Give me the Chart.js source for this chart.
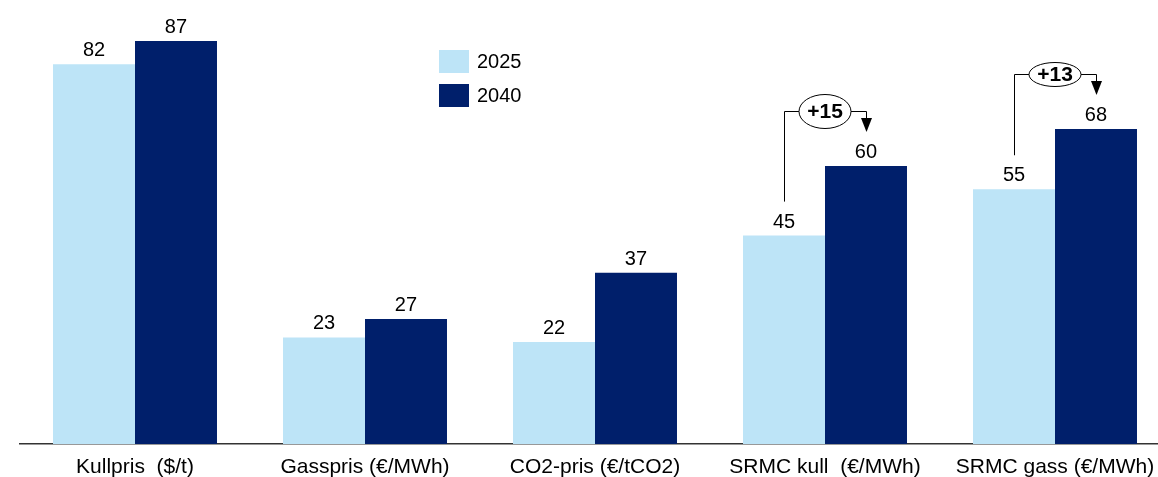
<!DOCTYPE html>
<html>
<head>
<meta charset="utf-8">
<script src="https://cdn.jsdelivr.net/npm/chart.js@4.4.1/dist/chart.umd.min.js"></script>
<style>
  html, body { margin: 0; padding: 0; background: #fff; overflow: hidden; }
  #wrap { width: 1175px; height: 477px; position: relative; }
</style>
</head>
<body>
<div id="wrap"><canvas id="chart"></canvas></div>
<script>
const categories = ["Kullpris  ($/t)", "Gasspris (€/MWh)", "CO2-pris (€/tCO2)", "SRMC kull  (€/MWh)", "SRMC gass (€/MWh)"];
const years = ["2025", "2040"];
const values2025 = [82, 23, 22, 45, 55];
const values2040 = [87, 27, 37, 60, 68];
// categories that get a "+x" change bracket
const bracketAt = [3, 4];

const LIGHT = "#BDE4F7";
const DARK = "#001F6B";
const FONT = "'Liberation Sans', Arial, sans-serif";

// value labels over every bar
const valueLabels = {
  id: "valueLabels",
  afterDatasetsDraw(chart) {
    const ctx = chart.ctx;
    ctx.save();
    ctx.font = "20px " + FONT;
    ctx.fillStyle = "#000";
    ctx.textAlign = "center";
    ctx.textBaseline = "alphabetic";
    chart.data.datasets.forEach((ds, i) => {
      chart.getDatasetMeta(i).data.forEach((bar, j) => {
        ctx.fillText(ds.data[j], bar.x, bar.y - 8);
      });
    });
    ctx.restore();
  }
};

// legend drawn as two stacked swatches in the middle of the plot
const boxLegend = {
  id: "boxLegend",
  afterDraw(chart) {
    const ctx = chart.ctx;
    ctx.save();
    ctx.font = "20px " + FONT;
    ctx.textBaseline = "middle";
    chart.data.datasets.forEach((ds, i) => {
      const y = 50 + i * 34;
      ctx.fillStyle = ds.backgroundColor;
      ctx.fillRect(439, y, 30, 23);
      ctx.fillStyle = "#000";
      ctx.fillText(ds.label, 477, y + 12);
    });
    ctx.restore();
  }
};

// bracket with ellipse showing the change from 2025 to 2040
const changeBrackets = {
  id: "changeBrackets",
  afterDraw(chart) {
    const ctx = chart.ctx;
    const m0 = chart.getDatasetMeta(0).data;
    const m1 = chart.getDatasetMeta(1).data;
    ctx.save();
    ctx.strokeStyle = "#000";
    ctx.fillStyle = "#000";
    ctx.lineWidth = 1;
    bracketAt.forEach((j, k) => {
      const a = m0[j], b = m1[j];
      const delta = values2040[j] - values2025[j];
      const hy = Math.round(b.y - 55) + 0.5;
      const x0 = Math.round(a.x) + 0.5, x1 = Math.round(b.x) + 0.5;
      const cx = (a.x + b.x) / 2;
      const rx = 26, ry = k === 0 ? 17 : 12;
      ctx.beginPath();
      ctx.moveTo(x0, a.y - 34);
      ctx.lineTo(x0, hy);
      ctx.lineTo(cx - rx, hy);
      ctx.moveTo(cx + rx, hy);
      ctx.lineTo(x1, hy);
      ctx.lineTo(x1, b.y - 46);
      ctx.stroke();
      // arrow head
      ctx.beginPath();
      ctx.moveTo(x1 - 5.5, b.y - 48);
      ctx.lineTo(x1 + 5.5, b.y - 48);
      ctx.lineTo(x1, b.y - 34);
      ctx.closePath();
      ctx.fill();
      // ellipse with delta
      ctx.beginPath();
      ctx.ellipse(cx, hy, rx, ry, 0, 0, Math.PI * 2);
      ctx.fillStyle = "#fff";
      ctx.fill();
      ctx.stroke();
      ctx.fillStyle = "#000";
      ctx.font = "bold 21px " + FONT;
      ctx.textAlign = "center";
      ctx.textBaseline = "middle";
      ctx.fillText("+" + delta, cx, hy + 1);
    });
    ctx.restore();
  }
};

new Chart(document.getElementById("chart"), {
  type: "bar",
  data: {
    labels: categories,
    datasets: [
      { label: years[0], data: values2025, backgroundColor: LIGHT },
      { label: years[1], data: values2040, backgroundColor: DARK }
    ]
  },
  options: {
    responsive: true,
    maintainAspectRatio: false,
    animation: false,
    layout: { padding: { left: 20, right: 5, top: 4, bottom: 0 } },
    datasets: { bar: { categoryPercentage: 0.713, barPercentage: 1 } },
    plugins: {
      legend: { display: false },
      tooltip: { enabled: false }
    },
    scales: {
      x: {
        grid: { display: false, drawTicks: false },
        border: { color: "#333", width: 1.5 },
        ticks: { color: "#000", font: { family: FONT, size: 21 }, padding: 11, maxRotation: 0, autoSkip: false },
        afterFit(scale) { scale.height = 33; }
      },
      y: {
        display: false,
        min: 0,
        max: 95
      }
    }
  },
  plugins: [valueLabels, boxLegend, changeBrackets]
});
</script>
</body>
</html>
